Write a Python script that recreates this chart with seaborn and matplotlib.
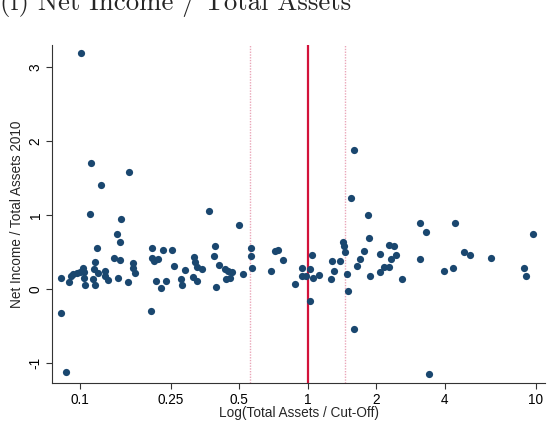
import matplotlib
matplotlib.use("Agg")
import matplotlib.pyplot as plt
import seaborn as sns
import pandas as pd

# Firm size relative to the cut-off (log scale) and net income over total assets, 2010
size_ratio = [
    0.1013, 0.1121, 0.1641, 0.1237, 0.1103, 0.1518, 0.1458, 0.1498, 0.1188, 0.1415,
    0.1503, 0.1703, 0.1714, 0.1739, 0.1464, 0.1625, 0.1168, 0.1149, 0.1193, 0.1137,
    0.1164, 0.1288, 0.1282, 0.1321, 0.1027, 0.1041, 0.1044, 0.1052, 0.0970, 0.1000,
    0.0934, 0.0910, 0.0897, 0.0828, 0.0828, 0.0871, 0.2056, 0.2077, 0.2315, 0.2543,
    0.2077, 0.2113, 0.2189, 0.2587, 0.2146, 0.2268, 0.2378, 0.2891, 0.2763, 0.2813,
    0.3177, 0.3199, 0.3248, 0.3440, 0.3119, 0.3248, 0.3697, 0.3924, 0.3857, 0.4090,
    0.4333, 0.4452, 0.4637, 0.4377, 0.4558, 0.3968, 0.5006, 0.5213, 0.5648, 0.5608,
    0.5711, 0.6882, 0.7188, 0.7384, 0.7790, 0.8795, 0.9440, 0.9410, 0.9780, 1.0266,
    1.0423, 1.0583, 1.1245, 1.0266, 1.2655, 1.2823, 1.3073, 1.3863, 1.4318, 1.4434,
    1.4625, 1.4834, 1.5061, 1.5974, 1.5974, 1.5451, 1.6517, 1.6922, 1.7670, 1.8493,
    1.8362, 1.8776, 2.0777, 2.0672, 2.1632, 2.2688, 2.2829, 2.3862, 2.4425, 2.3146,
    2.5870, 3.0974, 3.3020, 3.1037, 3.4200, 4.4218, 3.9561, 4.3334, 4.8435, 5.1770,
    6.4020, 8.9400, 9.0670, 9.7600,
]
net_income_ratio = [
    3.189, 1.703, 1.589, 1.409, 1.018, 0.950, 0.743, 0.635, 0.562, 0.419,
    0.392, 0.359, 0.292, 0.224, 0.157, 0.095, 0.373, 0.270, 0.220, 0.139,
    0.058, 0.247, 0.173, 0.126, 0.288, 0.238, 0.159, 0.054, 0.216, 0.227,
    0.203, 0.186, 0.095, 0.146, -0.316, -1.114, -0.289, 0.554, 0.527, 0.524,
    0.419, 0.376, 0.405, 0.308, 0.116, 0.022, 0.112, 0.261, 0.139, 0.058,
    0.441, 0.373, 0.295, 0.272, 0.170, 0.112, 1.062, 0.585, 0.446, 0.328,
    0.272, 0.247, 0.234, 0.136, 0.153, 0.028, 0.865, 0.209, 0.555, 0.454,
    0.292, 0.241, 0.511, 0.531, 0.396, 0.068, 0.284, 0.184, 0.177, 0.272,
    0.457, 0.149, 0.197, -0.165, 0.143, 0.382, 0.247, 0.382, 0.643, 0.581,
    0.504, 0.203, -0.023, -0.541, 1.886, 1.234, 0.315, 0.409, 0.522, 0.697,
    1.008, 0.177, 0.473, 0.227, 0.301, 0.305, 0.595, 0.589, 0.464, 0.409,
    0.135, 0.896, 0.778, 0.409, -1.149, 0.900, 0.243, 0.292, 0.504, 0.459,
    0.423, 0.288, 0.176, 0.750,
]

cutoff = 1.0
band_lower = 0.556
band_upper = 1.454

x_ticks = [0.1, 0.25, 0.5, 1, 2, 4, 10]
x_tick_labels = ["0.1", "0.25", "0.5", "1", "2", "4", "10"]
y_ticks = [-1, 0, 1, 2, 3]
y_tick_labels = ["-1", "0", "1", "2", "3"]

df = pd.DataFrame({"size": size_ratio, "ni": net_income_ratio})

sns.set_style("ticks")
plt.rcParams["font.family"] = ["Liberation Sans", "DejaVu Sans"]

fig = plt.figure(figsize=(5.47, 4.23), dpi=100)
ax = fig.add_axes([0.0956, 0.0939, 0.9007, 0.7997])

ax.axvline(band_lower, color="#eaa6b8", lw=1.0, ls=(0, (1, 1)), zorder=1)
ax.axvline(band_upper, color="#eaa6b8", lw=1.0, ls=(0, (1, 1)), zorder=1)
ax.axvline(cutoff, color="#d3123a", lw=1.6, zorder=1)

sns.scatterplot(data=df, x="size", y="ni", ax=ax, color="#1a476f",
                s=27, linewidth=0, zorder=3, legend=False)

ax.set_xscale("log")
ax.set_xlim(0.0755, 11.0)
ax.set_ylim(-1.27, 3.30)
ax.set_xticks(x_ticks)
ax.set_xticklabels(x_tick_labels)
ax.xaxis.set_minor_locator(matplotlib.ticker.NullLocator())
ax.set_yticks(y_ticks)
ax.set_yticklabels(y_tick_labels, rotation=90, va="center")

ax.tick_params(axis="both", direction="out", length=4, width=0.8,
               color="#333333", labelsize=9.8, pad=3, labelcolor="black")
for side in ("left", "bottom"):
    ax.spines[side].set_color("#333333")
    ax.spines[side].set_linewidth(0.8)
sns.despine(ax=ax)

ax.set_xlabel("Log(Total Assets / Cut-Off)", fontsize=9.8, labelpad=-1)
ax.set_ylabel("Net Income / Total Assets 2010", fontsize=9.8, labelpad=3)

fig.text(0.0, 0.9764, "(f) Net Income / Total Assets", family="cmr10",
         fontsize=19.3, ha="left", va="baseline")

fig.savefig("out.png", dpi=100)
